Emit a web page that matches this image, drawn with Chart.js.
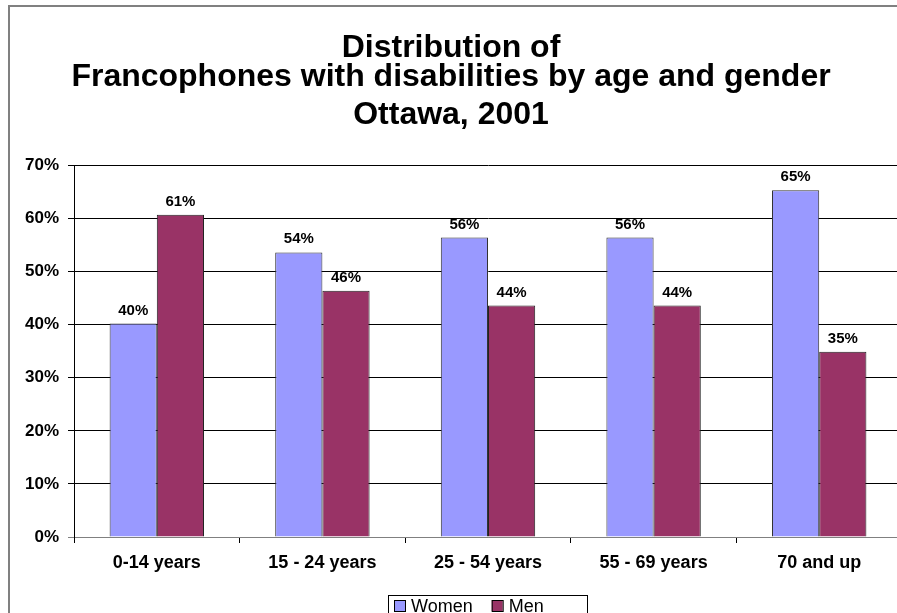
<!DOCTYPE html>
<html>
<head>
<meta charset="utf-8">
<title>Francophones with disabilities by age and gender</title>
<script src="https://cdn.jsdelivr.net/npm/chart.js@4.4.1/dist/chart.umd.min.js"></script>
<style>
  html, body { margin:0; padding:0; background:#fff; overflow:hidden; }
  #frame {
    position:absolute; left:8px; top:5px; width:1000px; height:1000px;
    border-left:2px solid #808080; border-top:2px solid #808080;
  }
  #chart { position:absolute; left:0; top:0; }
</style>
</head>
<body>
<div id="frame"></div>
<canvas id="chart" width="902" height="613" style="width:902px;height:613px"></canvas>
<script>
// ── Data ───────────────────────────────────────────────────
const ageGroups   = ['0-14 years', '15 - 24 years', '25 - 54 years', '55 - 69 years', '70 and up'];
const womenShare  = [40.2, 53.6, 56.4, 56.4, 65.3];
const menShare    = [60.7, 46.4, 43.6, 43.6, 34.9];
const yTicks      = [0, 10, 20, 30, 40, 50, 60, 70];
const titleLines  = ['Distribution of', 'Francophones with disabilities by age and gender'];
const subtitleTxt = 'Ottawa, 2001';

const FONT = "'Liberation Sans', Arial, Helvetica, sans-serif";

// ── Value labels above the bars ────────────────────────────
const barLabels = {
  id: 'barLabels',
  afterDatasetsDraw(chart) {
    const ctx = chart.ctx;
    ctx.save();
    ctx.font = `bold 15px ${FONT}`;
    ctx.fillStyle = '#000';
    ctx.textAlign = 'center';
    ctx.textBaseline = 'alphabetic';
    chart.data.datasets.forEach((ds, di) => {
      chart.getDatasetMeta(di).data.forEach((bar, i) => {
        ctx.fillText(Math.round(ds.data[i]) + '%', bar.x, bar.y - 9);
      });
    });
    ctx.restore();
  }
};

// ── Boxed legend (Excel style) ─────────────────────────────
const boxLegend = {
  id: 'boxLegend',
  afterDraw(chart) {
    const ctx = chart.ctx;
    const top = 595, left = 388, right = 587;
    ctx.save();
    ctx.strokeStyle = '#000';
    ctx.lineWidth = 1;
    ctx.strokeRect(left + 0.5, top + 0.5, right - left, 40);
    ctx.font = `18px ${FONT}`;
    ctx.textBaseline = 'middle';
    ctx.textAlign = 'left';
    let x = left + 6;
    const cy = top + 11;
    chart.data.datasets.forEach(ds => {
      ctx.fillStyle = ds.backgroundColor;
      ctx.fillRect(x, cy - 6, 11, 11);
      ctx.strokeStyle = '#000';
      ctx.strokeRect(x + 0.5, cy - 5.5, 11, 11);
      ctx.fillStyle = '#000';
      ctx.fillText(ds.label, x + 17, cy + 1);
      x += 17 + ctx.measureText(ds.label).width + 19;
    });
    ctx.restore();
  }
};

new Chart(document.getElementById('chart'), {
  type: 'bar',
  data: {
    labels: ageGroups,
    datasets: [
      { label: 'Women', data: womenShare, backgroundColor: '#9999FF', borderColor: '#333', borderWidth: 1 },
      { label: 'Men',   data: menShare,   backgroundColor: '#993366', borderColor: '#222', borderWidth: 1 },
    ],
  },
  options: {
    responsive: false,
    animation: false,
    layout: { padding: { left: 0, right: 0, top: 0, bottom: 36 } },
    datasets: { bar: { categoryPercentage: 0.57, barPercentage: 1.0 } },
    plugins: {
      legend: { display: false },
      tooltip: { enabled: false },
      title: {
        display: true, text: titleLines, color: '#000',
        font: { family: FONT, size: 32, weight: 'bold', lineHeight: 0.9 },
        padding: { top: 34, bottom: 9 },
      },
      subtitle: {
        display: true, text: subtitleTxt, color: '#000',
        font: { family: FONT, size: 32, weight: 'bold', lineHeight: 0.9 },
        padding: { top: 0, bottom: 36 },
      },
    },
    scales: {
      x: {
        offset: true,
        grid: { offset: true, drawOnChartArea: false, drawTicks: true, tickLength: 6, color: '#000' },
        border: { color: '#808080', width: 1 },
        ticks: { color: '#000', padding: 9, maxRotation: 0, font: { family: FONT, size: 18, weight: 'bold' } },
        afterFit: s => { s.height = 40; },
      },
      y: {
        min: 0, max: 70,
        afterBuildTicks: s => { s.ticks = yTicks.map(v => ({ value: v })); },
        grid: { drawTicks: true, tickLength: 6, color: c => (c.tick && c.tick.value === 0 ? '#808080' : '#000') },
        border: { color: '#000', width: 1 },
        ticks: { color: '#000', padding: 9, callback: v => v + '%', font: { family: FONT, size: 17, weight: 'bold' } },
        afterFit: s => { s.width = 74; },
      },
    },
  },
  plugins: [barLabels, boxLegend],
});
</script>
</body>
</html>
